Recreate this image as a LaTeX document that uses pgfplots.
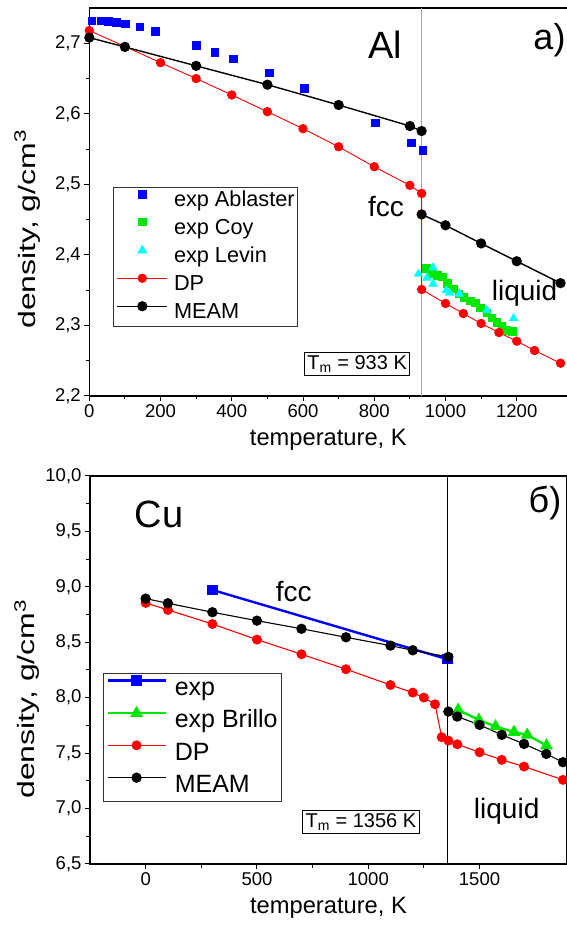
\documentclass[border=0pt]{standalone}
\usepackage{pgfplots}
\pgfplotsset{compat=1.18}
\usepackage{fontspec}
\setmainfont{Liberation Sans}
\usepackage{graphicx}
\definecolor{cblue}{RGB}{0,0,255}
\definecolor{cgreen}{RGB}{0,230,0}
\definecolor{ccyan}{RGB}{0,255,255}
\definecolor{cred}{RGB}{255,0,0}
\pgfplotsset{
  myaxis/.style={
    scale only axis,
    axis line style={line width=1.1pt},
    every tick/.style={line width=1pt, black},
    tick align=outside, major tick length=5pt, minor tick length=3.5pt,
    minor tick num=1, xtick pos=bottom, ytick pos=left,
    tick label style={font=\fontsize{18.5pt}{20pt}\selectfont},
    /pgf/number format/assume math mode=true,
    x tick label style={/pgf/number format/1000 sep={}},
    y tick label style={/pgf/number format/.cd, use comma, fixed, fixed zerofill, precision=1},
    label style={font=\fontsize{23.7pt}{26pt}\selectfont},
    legend cell align=left,
    legend image code/.code={\draw[mark repeat=2,mark phase=2,#1] plot coordinates {(0pt,7pt) (25pt,7pt) (50pt,7pt)};},
  }
}
\begin{document}
\begin{tikzpicture}
\useasboundingbox (0pt,0pt) rectangle (567pt,930pt);
% ---------------- Al ----------------
\begin{axis}[myaxis,
  at={(89.3pt,534pt)}, anchor=south west,
  width=478pt, height=388pt,
  xmin=0, xmax=1342, ymin=2.2, ymax=2.75,
  xtick={0,200,...,1200}, ytick={2.2,2.3,...,2.71},
  xlabel={temperature, K},
  ylabel={\scalebox{1.35}[1]{density, g/cm\textsuperscript{3}}},
  xlabel style={at={(axis description cs:0.5,-0.085)}, anchor=north, inner sep=0pt},
  ylabel style={at={(axis description cs:-0.13,0.43)}, anchor=center, inner sep=0pt},
  legend style={at={(axis description cs:0.050,0.538)}, anchor=north west,
    draw=black!80, line width=0.8pt, inner sep=3pt, fill=white,
    font=\fontsize{21.7pt}{26pt}\selectfont,
    nodes={inner sep=0pt, text height=15.6pt, text depth=4.6pt},
    row sep=6.5pt, column sep=6pt},
]
\addplot[gray!70, line width=0.9pt, forget plot] coordinates {(933,2.2) (933,2.75)};
\addplot[only marks, mark=square*, color=cblue, mark size=3.8pt] coordinates {
(7,2.732) (32,2.732) (53,2.7316) (75,2.730) (100,2.728) (142,2.7236) (185,2.7175)
(300,2.6976) (352,2.6877) (404,2.678) (505,2.658) (603,2.6366) (802,2.5874) (903,2.559) (936,2.5487)};
\addlegendentry{exp Ablaster}
\addplot[only marks, mark=square*, color=cgreen, mark size=3.8pt] coordinates {
(946,2.381) (962,2.374) (976,2.371) (990,2.369) (1004,2.360) (1022,2.352) (1037,2.345)
(1051,2.340) (1069,2.335) (1083,2.332) (1098,2.325) (1116,2.318) (1130,2.311) (1144,2.305)
(1158,2.299) (1172,2.293) (1187,2.292)};
\addlegendentry{exp Coy}
\addplot[only marks, mark=triangle*, color=ccyan, mark size=5pt] coordinates {
(924,2.373) (948,2.3675) (965,2.382) (965,2.359) (1002,2.3496) (1011,2.3463) (1039,2.3448)
(1116,2.3217) (1191,2.31)};
\addlegendentry{exp Levin}
\addplot[cred, line width=0.9pt, mark=*, mark size=4.2pt, mark options={solid, fill=cred}] coordinates {
(0,2.718) (100,2.6955) (200,2.6725) (300,2.650) (400,2.6267) (500,2.603) (600,2.579)
(700,2.5533) (800,2.525) (900,2.4986) (933,2.4872) (933,2.351) (1000,2.3312) (1050,2.317)
(1100,2.3028) (1150,2.290) (1200,2.2777) (1250,2.2645) (1323,2.2465)};
\addlegendentry{DP}
\addplot[black, line width=1.4pt, mark=*, mark size=4.4pt, mark options={solid, fill=black}] coordinates {
(0,2.708) (100,2.6948) (300,2.668) (500,2.6413) (700,2.6125) (900,2.5827) (933,2.5756)};
\addlegendentry{MEAM}
\addplot[black, line width=1.4pt, mark=*, mark size=4.4pt, mark options={solid, fill=black}, forget plot] coordinates {
(933,2.4574) (1000,2.442) (1100,2.4163) (1200,2.391) (1323,2.360)};
\node[font=\fontsize{38pt}{40pt}\selectfont] at (axis cs:830,2.6976) {Al};
\node[font=\fontsize{36pt}{40pt}\selectfont] at (axis cs:1292,2.7048) {a)};
\node[font=\fontsize{28pt}{30pt}\selectfont] at (axis cs:833,2.4693) {fcc};
\node[font=\fontsize{28pt}{30pt}\selectfont] at (axis cs:1222,2.3454) {liquid};
\node[draw, line width=0.8pt, inner sep=3pt, fill=white, font=\fontsize{20pt}{22pt}\selectfont] at (axis cs:752,2.245) {T\textsubscript{m} = 933 K};
\end{axis}
% ---------------- Cu ----------------
\begin{axis}[myaxis,
  at={(90pt,66pt)}, anchor=south west,
  width=477pt, height=388pt,
  xmin=-250, xmax=1893, ymin=6.5, ymax=10,
  xtick={0,500,1000,1500}, ytick={6.5,7,...,10},
  xlabel={temperature, K},
  ylabel={\scalebox{1.35}[1]{density, g/cm\textsuperscript{3}}},
  xlabel style={at={(axis description cs:0.5,-0.085)}, anchor=north, inner sep=0pt},
  ylabel style={at={(axis description cs:-0.132,0.425)}, anchor=center, inner sep=0pt},
  legend style={at={(axis description cs:0.0266,0.493)}, anchor=north west,
    draw=black!80, line width=0.8pt, inner sep=3.3pt, fill=white,
    font=\fontsize{25pt}{28pt}\selectfont,
    nodes={inner sep=0pt, text height=18pt, text depth=5.5pt},
    row sep=7.5pt, column sep=8pt},
  legend image code/.code={\draw[mark repeat=2,mark phase=2,#1] plot coordinates {(0pt,8.5pt) (29pt,8.5pt) (58pt,8.5pt)};},
]
\addplot[black, line width=0.9pt, forget plot] coordinates {(1356,6.5) (1356,10)};
\addplot[cblue, line width=2.4pt, mark=square*, mark size=4pt, mark options={solid, fill=cblue}] coordinates {
(300,8.972) (1356,8.347)};
\addlegendentry{exp}
\addplot[cgreen, line width=2.4pt, mark=triangle*, mark size=5pt, mark options={solid, fill=cgreen}] coordinates {
(1404,7.89) (1497,7.80) (1572,7.74) (1655,7.69) (1714,7.665) (1801,7.568)};
\addlegendentry{exp Brillo}
\addplot[cred, line width=1.1pt, mark=*, mark size=4.4pt, mark options={solid, fill=cred}] coordinates {
(0,8.855) (100,8.792) (300,8.665) (500,8.524) (700,8.392) (900,8.257) (1100,8.115) (1200,8.046)
(1250,8.001) (1300,7.941) (1330,7.644) (1360,7.613) (1400,7.58) (1500,7.508) (1600,7.439)
(1700,7.379) (1875,7.259)};
\addlegendentry{DP}
\addplot[black, line width=1.1pt, mark=*, mark size=4.6pt, mark options={solid, fill=black}] coordinates {
(0,8.894) (100,8.852) (300,8.771) (500,8.695) (700,8.622) (900,8.545) (1100,8.47) (1200,8.428) (1360,8.368)};
\addlegendentry{MEAM}
\addplot[black, line width=1.1pt, mark=*, mark size=4.6pt, mark options={solid, fill=black}, forget plot] coordinates {
(1360,7.875) (1400,7.83) (1500,7.755) (1600,7.665) (1700,7.583) (1800,7.493) (1875,7.418)};
\node[font=\fontsize{38pt}{40pt}\selectfont] at (axis cs:61,9.657) {Cu};
\node[font=\fontsize{36pt}{40pt}\selectfont] at (axis cs:1794,9.757) {б)};
\node[font=\fontsize{28pt}{30pt}\selectfont] at (axis cs:665,8.957) {fcc};
\node[font=\fontsize{28pt}{30pt}\selectfont] at (axis cs:1622,6.973) {liquid};
\node[draw, line width=0.8pt, inner sep=3pt, fill=white, font=\fontsize{20pt}{22pt}\selectfont] at (axis cs:967,6.88) {T\textsubscript{m} = 1356 K};
\end{axis}
\end{tikzpicture}
\end{document}
